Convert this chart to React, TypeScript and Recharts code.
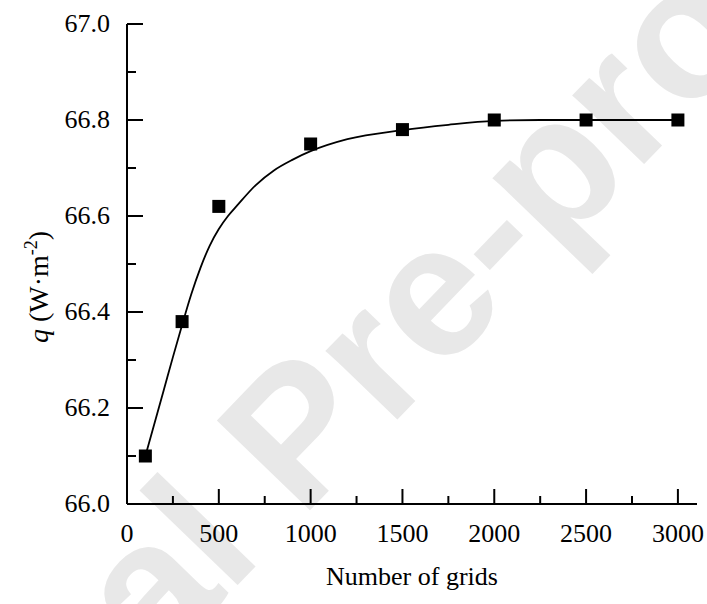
import React from 'react';
import { ComposedChart, XAxis, YAxis, Line, Scatter, Label } from 'recharts';

// Measured heat flux for each mesh size
const gridCounts = [100, 300, 500, 1000, 1500, 2000, 2500, 3000];
const heatFlux = [66.1, 66.38, 66.62, 66.75, 66.78, 66.8, 66.8, 66.8];

// Fitted trend curve
const fitGrids = [100, 200, 250, 300, 350, 400, 450, 500, 550, 600, 700, 800, 900, 1000, 1200, 1500, 1750, 2000, 2250, 2500, 3000];
const fitFlux = [66.1, 66.237, 66.306, 66.373, 66.437, 66.492, 66.538, 66.573, 66.6, 66.622, 66.664, 66.695, 66.717, 66.735, 66.76, 66.779, 66.79, 66.798, 66.8, 66.8, 66.8];

// Axis ticks
const xMajorTicks = [0, 500, 1000, 1500, 2000, 2500, 3000];
const xAllTicks = [0, 250, 500, 750, 1000, 1250, 1500, 1750, 2000, 2250, 2500, 2750, 3000];
const yAllTicks = [66.0, 66.1, 66.2, 66.3, 66.4, 66.5, 66.6, 66.7, 66.8, 66.9, 67.0];

const points = gridCounts.map((n, i) => ({ n, q: heatFlux[i] }));
const fit = fitGrids.map((n, i) => ({ n, q: fitFlux[i] }));

const SERIF = "'Liberation Serif', 'DejaVu Serif', 'Times New Roman', Times, serif";
const FS = 26;
const serifStyle = { fontFamily: SERIF };

const isYMajor = (v: number) => Math.round(v * 10) % 2 === 0;

const BottomTick = (props: any) => {
  const { x, y, payload } = props;
  const major = xMajorTicks.includes(payload.value);
  return (
    <g>
      <line x1={x} x2={x} y1={y} y2={y - (major ? 15 : 8)} stroke="#000" strokeWidth={2} />
      {major && (
        <text x={x} y={y + 38} textAnchor="middle" fontSize={FS} style={serifStyle} fill="#000">
          {payload.value}
        </text>
      )}
    </g>
  );
};

const TopTick = (props: any) => {
  const { x, y } = props;
  return <line x1={x} x2={x} y1={y} y2={y + 2} stroke="#000" strokeWidth={1.5} />;
};

const LeftTick = (props: any) => {
  const { x, y, payload } = props;
  const major = isYMajor(payload.value);
  return (
    <g>
      <line x1={x} x2={x + (major ? 16 : 9)} y1={y} y2={y} stroke="#000" strokeWidth={2} />
      {major && (
        <text x={x - 17} y={y + 8} textAnchor="end" fontSize={FS} style={serifStyle} fill="#000">
          {Number(payload.value).toFixed(1)}
        </text>
      )}
    </g>
  );
};

const RightTick = (props: any) => {
  const { x, y } = props;
  return <line x1={x} x2={x - 6} y1={y} y2={y} stroke="#000" strokeWidth={2} />;
};

const SquareDot = (props: any) => {
  const { cx, cy } = props;
  if (cx == null || cy == null) return null;
  return <rect x={cx - 6.5} y={cy - 6.5} width={13} height={13} fill="#000" />;
};

const XTitle = (props: any) => {
  const vb = props.viewBox;
  return (
    <text x={vb.x + vb.width / 2} y={vb.y + 81} textAnchor="middle" fontSize={FS} style={serifStyle} fill="#000">
      Number of grids
    </text>
  );
};

const YTitle = (props: any) => {
  const vb = props.viewBox;
  const cx = 48;
  const cy = vb.y + vb.height / 2 + 23;
  return (
    <text
      x={cx}
      y={cy}
      transform={`rotate(-90 ${cx} ${cy})`}
      textAnchor="middle"
      fontSize={28}
      style={serifStyle}
      fill="#000"
    >
      <tspan fontStyle="italic">q</tspan>
      <tspan> (W·m</tspan>
      <tspan dy={-11} fontSize={18}>-2</tspan>
      <tspan dy={11}>)</tspan>
    </text>
  );
};

export default function App() {
  return (
    <div style={{ position: 'absolute', left: 0, top: 0, width: 707, height: 604, background: '#fff', overflow: 'hidden', fontFamily: SERIF }}>
      <svg width={707} height={604} style={{ position: 'absolute', left: 0, top: 0 }}>
        <text
          x={341}
          y={478}
          transform="rotate(-46 341 478)"
          textAnchor="middle"
          fontSize={188}
          fontWeight="bold"
          style={{ fontFamily: "'Liberation Sans', Arial, sans-serif" }}
          fill="#e8e8e8"
        >
          Journal Pre-proof
        </text>
      </svg>
      <div style={{ position: 'absolute', left: 0, top: 0 }}>
        <ComposedChart width={707} height={604} margin={{ top: 24, right: 10, bottom: 20, left: 0 }}>
          <XAxis
            xAxisId="b"
            type="number"
            dataKey="n"
            orientation="bottom"
            domain={[0, 3104]}
            ticks={xAllTicks}
            interval={0}
            height={80}
            tickSize={0}
            tickMargin={0}
            tickLine={false}
            tick={<BottomTick />}
            axisLine={{ stroke: '#000', strokeWidth: 2 }}
            allowDataOverflow
          >
            <Label content={<XTitle />} />
          </XAxis>
          <XAxis
            xAxisId="t"
            type="number"
            orientation="top"
            domain={[0, 3104]}
            ticks={xAllTicks}
            interval={0}
            height={0}
            tickSize={0}
            tickMargin={0}
            tickLine={false}
            tick={<TopTick />}
            axisLine={{ stroke: '#000', strokeWidth: 2 }}
            allowDataOverflow
          />
          <YAxis
            yAxisId="l"
            type="number"
            orientation="left"
            domain={[66, 67]}
            ticks={yAllTicks}
            interval={0}
            width={127}
            tickSize={0}
            tickMargin={0}
            tickLine={false}
            tick={<LeftTick />}
            axisLine={{ stroke: '#000', strokeWidth: 2 }}
            allowDataOverflow
          >
            <Label content={<YTitle />} />
          </YAxis>
          <YAxis
            yAxisId="r"
            type="number"
            orientation="right"
            domain={[66, 67]}
            ticks={yAllTicks}
            interval={0}
            width={0}
            tickSize={0}
            tickMargin={0}
            tickLine={false}
            tick={<RightTick />}
            axisLine={{ stroke: '#000', strokeWidth: 2 }}
            allowDataOverflow
          />
          <Line
            xAxisId="b"
            yAxisId="l"
            data={fit}
            dataKey="q"
            type="monotone"
            stroke="#000"
            strokeWidth={1.8}
            dot={false}
            activeDot={false}
            isAnimationActive={false}
          />
          <Scatter
            xAxisId="b"
            yAxisId="l"
            data={points}
            dataKey="q"
            fill="#000"
            shape={<SquareDot />}
            isAnimationActive={false}
          />
        </ComposedChart>
      </div>
    </div>
  );
}
